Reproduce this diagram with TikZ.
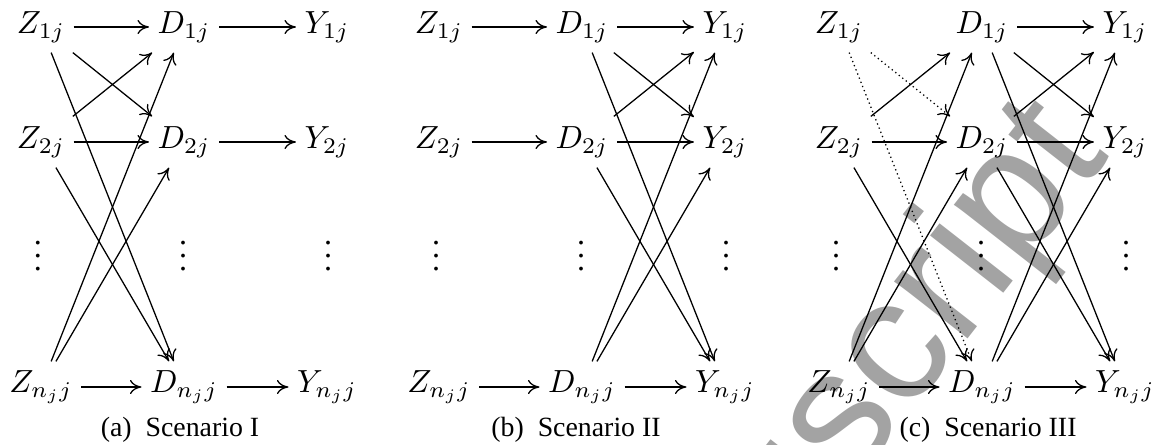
\documentclass[tikz,border=0pt]{standalone}
\usepackage{amsmath,amssymb}
\usepackage[no-math]{fontspec}
\setmainfont{Liberation Serif}
\newfontfamily\markfont{Liberation Sans}
\usetikzlibrary{arrows.meta}

\begin{document}
\begin{tikzpicture}[x=0.3125pt, y=-0.3125pt, >={To[length=3.6pt,width=4.4pt]},
  var/.style={inner xsep=2.5pt, inner ysep=0pt, minimum height=15.6pt},
  dotsnode/.style={inner sep=0pt, anchor=base},
  captext/.style={anchor=base, font=\rmfamily\fontsize{8.7}{10}\selectfont},
  wmark/.style={anchor=base west, rotate=52, text=black, text opacity=0.36,
    font=\markfont\fontsize{55}{60}\selectfont}]
\useasboundingbox (0,0) rectangle (1159,444);
% same three columns in every panel
\foreach \p/\xo in {a/0,b/398,c/798} {
  \node[var] (\p-Z1) at (\xo+41,27) {$Z_{1j}$};
  \node[var] (\p-D1) at (\xo+184,27) {$D_{1j}$};
  \node[var] (\p-Y1) at (\xo+327,27) {$Y_{1j}$};
  \node[var] (\p-Z2) at (\xo+41,142) {$Z_{2j}$};
  \node[var] (\p-D2) at (\xo+184,142) {$D_{2j}$};
  \node[var] (\p-Y2) at (\xo+327,142) {$Y_{2j}$};
  \node[dotsnode] (\p-Zd) at (\xo+38,270) {$\vdots$};
  \node[dotsnode] (\p-Dd) at (\xo+183,270) {$\vdots$};
  \node[dotsnode] (\p-Yd) at (\xo+328,270) {$\vdots$};
  \node[var] (\p-Zn) at (\xo+41,387) {$Z_{n_jj}$};
  \node[var] (\p-Dn) at (\xo+184,387) {$D_{n_jj}$};
  \node[var] (\p-Yn) at (\xo+327,387) {$Y_{n_jj}$};
}
\node[captext] (a-cap) at (180,436) {(a)\enspace Scenario I};
\node[captext] (b-cap) at (576,436) {(b)\enspace Scenario II};
\node[captext] (c-cap) at (988,436) {(c)\enspace Scenario III};

% straight rows
\foreach \p in {a,b,c} {
  \foreach \r in {1,2,n} \draw[->] (\p-D\r) -- (\p-Y\r);
  \foreach \r in {2,n} \draw[->] (\p-Z\r) -- (\p-D\r);
}
\draw[->] (a-Z1) -- (a-D1);
\draw[->] (b-Z1) -- (b-D1);

% Z to D crossings
\foreach \p in {a,c} {
  \draw[->] (\p-Z2) -- (\p-D1);
  \draw[->] (\p-Z2) -- (\p-Dn);
  \draw[->] (\p-Zn) -- (\p-D1);
  \draw[->] (\p-Zn) -- (\p-D2);
}
\draw[->] (a-Z1) -- (a-D2);
\draw[->] (a-Z1) -- (a-Dn);
\draw[->,densely dotted] (c-Z1) -- (c-D2);
\draw[->,densely dotted] (c-Z1) -- (c-Dn);

% D to Y crossings
\foreach \p in {b,c} {
  \draw[->] (\p-D1) -- (\p-Y2);
  \draw[->] (\p-D1) -- (\p-Yn);
  \draw[->] (\p-D2) -- (\p-Y1);
  \draw[->] (\p-D2) -- (\p-Yn);
  \draw[->] (\p-Dn) -- (\p-Y1);
  \draw[->] (\p-Dn) -- (\p-Y2);
}

\node[wmark] (mark) at (574,843) {Manuscript};
\end{tikzpicture}
\end{document}
